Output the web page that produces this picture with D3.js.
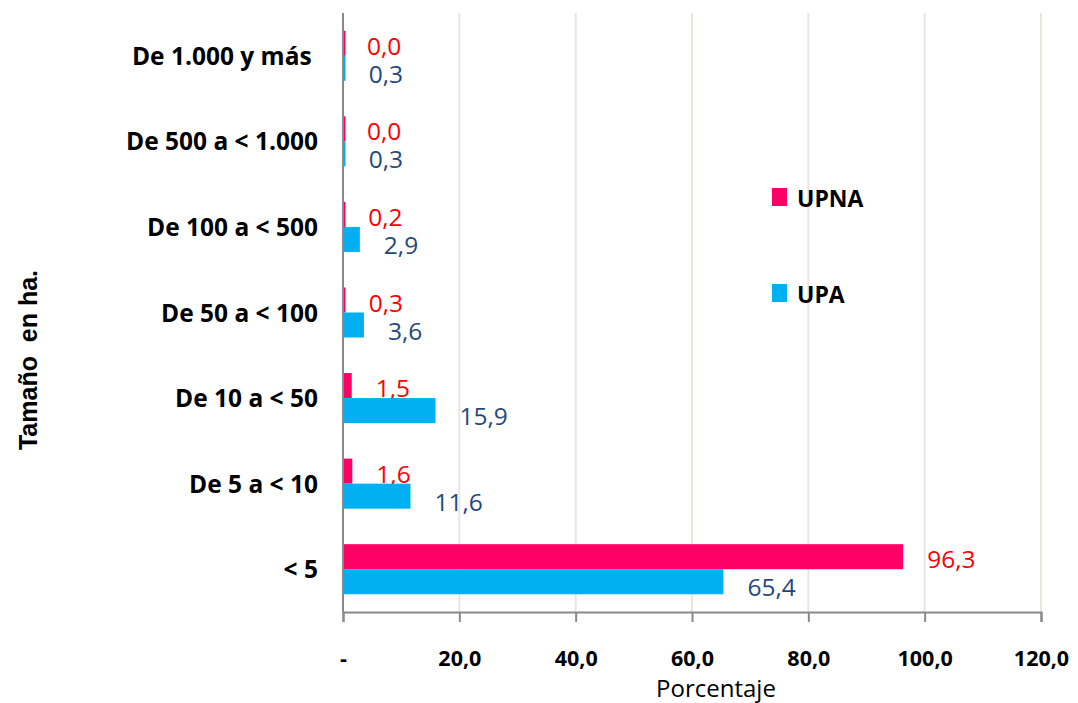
<!DOCTYPE html>
<html lang="es">
<head>
    <meta charset="UTF-8">
    <title>Tamaño en ha.</title>
    <script src="https://d3js.org/d3.v7.min.js"></script>
    <style>
        body { margin: 0; background: #ffffff; }
        .cat { font-family: "Open Sans", sans-serif; font-weight: bold; font-size: 24.5px; fill: #000; }
        .tick-lbl { font-family: "Open Sans", sans-serif; font-weight: bold; font-size: 21.5px; fill: #000; }
        .val { font-family: "Open Sans", sans-serif; font-size: 24.5px; }
    </style>
</head>
<body>
    <script>
        var width = 1078;
        var height = 703;

        // data
        var categories = ["De 1.000 y más ", "De 500 a < 1.000", "De 100 a < 500", "De 50 a < 100", "De 10 a < 50", "De 5 a < 10", "< 5"];
        var upna = [0.0, 0.0, 0.2, 0.3, 1.5, 1.6, 96.3];
        var upa = [0.3, 0.3, 2.9, 3.6, 15.9, 11.6, 65.4];
        var seriesNames = ["UPNA", "UPA"];
        var xTicks = [0, 20, 40, 60, 80, 100, 120];
        var xTickLabels = ["-", "20,0", "40,0", "60,0", "80,0", "100,0", "120,0"];

        var colors = { UPNA: "#ff0066", UPA: "#00b0f0" };
        var labelColors = { UPNA: "#ff0000", UPA: "#1f497d" };

        var margin = { left: 343, right: 37, top: 13, bottom: 91 };

        var svg = d3.select("body").append("svg")
            .attr("width", width)
            .attr("height", height);

        var x = d3.scaleLinear()
            .domain([0, 120])
            .range([margin.left, width - margin.right]);

        var y = d3.scaleBand()
            .domain(categories)
            .range([margin.top, height - margin.bottom])
            .paddingInner(0.415)
            .paddingOuter(0.2075);

        var sub = d3.scaleBand()
            .domain(seriesNames)
            .range([0, y.bandwidth()]);

        // gridlines
        svg.selectAll(".grid")
            .data(xTicks.slice(1))
            .enter().append("line")
            .attr("class", "grid")
            .attr("x1", function(d) { return x(d); })
            .attr("x2", function(d) { return x(d); })
            .attr("y1", margin.top)
            .attr("y2", height - margin.bottom)
            .attr("stroke", "#e9e6dc")
            .attr("stroke-width", 2);

        var rows = categories.map(function(c, i) {
            return { cat: c, UPNA: upna[i], UPA: upa[i] };
        });

        var group = svg.selectAll(".row")
            .data(rows)
            .enter().append("g")
            .attr("class", "row")
            .attr("transform", function(d) { return "translate(0," + y(d.cat) + ")"; });

        seriesNames.forEach(function(s, k) {
            group.append("rect")
                .attr("x", x(0))
                .attr("y", sub(s))
                .attr("width", function(d) { return Math.max(x(d[s]) - x(0), 2.5); })
                .attr("height", sub.bandwidth())
                .attr("fill", colors[s]);

            group.append("text")
                .attr("class", "val")
                .attr("x", function(d) { return x(d[s]) + 24; })
                .attr("y", sub(s) + sub.bandwidth() + (k === 0 ? -1 : 2))
                .attr("fill", labelColors[s])
                .text(function(d) { return d3.format(".1f")(d[s]).replace(".", ","); });
        });

        // axes
        var axisColor = "#898989";
        svg.append("line")
            .attr("x1", x(0)).attr("x2", x(0))
            .attr("y1", margin.top).attr("y2", height - margin.bottom)
            .attr("stroke", axisColor).attr("stroke-width", 2);

        var xAxis = svg.append("g")
            .attr("transform", "translate(0," + (height - margin.bottom) + ")")
            .call(d3.axisBottom(x).tickValues(xTicks).tickSize(10).tickFormat(function(d, i) { return xTickLabels[i]; }));
        xAxis.select(".domain").attr("stroke", axisColor).attr("stroke-width", 2);
        xAxis.selectAll(".tick line").attr("stroke", axisColor).attr("stroke-width", 2);
        xAxis.selectAll(".tick text")
            .attr("class", "tick-lbl")
            .attr("font-family", null).attr("font-size", null)
            .attr("y", 39)
            .attr("fill", "#000");

        // category labels
        svg.selectAll(".cat")
            .data(categories)
            .enter().append("text")
            .attr("class", "cat")
            .attr("x", 318)
            .attr("y", function(d) { return y(d) + y.bandwidth() / 2 + 9; })
            .attr("text-anchor", "end")
            .attr("xml:space", "preserve")
            .text(function(d) { return d; });

        // axis titles
        svg.append("text")
            .attr("x", 716)
            .attr("y", 697)
            .attr("text-anchor", "middle")
            .attr("font-family", "Open Sans, sans-serif")
            .attr("font-size", 24)
            .text("Porcentaje");

        svg.append("text")
            .attr("transform", "translate(37,360) rotate(-90)")
            .attr("text-anchor", "middle")
            .attr("font-family", "Liberation Sans, Arial, sans-serif")
            .attr("font-weight", "bold")
            .attr("font-size", 25)
            .attr("xml:space", "preserve")
            .text("Tamaño  en ha.");

        // legend
        var legendY = [198, 294];
        seriesNames.forEach(function(s, i) {
            svg.append("rect")
                .attr("x", 772).attr("y", legendY[i] - 10)
                .attr("width", 15).attr("height", 18)
                .attr("fill", colors[s]);
            svg.append("text")
                .attr("x", 797).attr("y", legendY[i] + 9)
                .attr("font-family", "Open Sans, sans-serif")
                .attr("font-weight", "bold")
                .attr("font-size", 23)
                .text(s);
        });
    </script>
</body>
</html>
